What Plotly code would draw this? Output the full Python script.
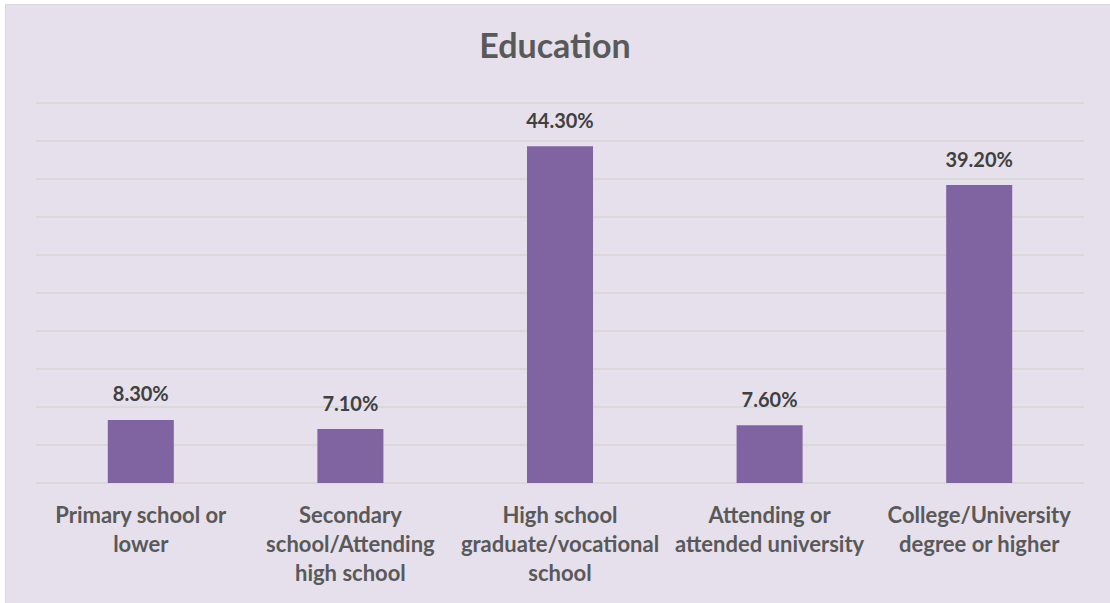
import plotly.graph_objects as go

# Education level distribution (percent of respondents)
categories = [
    "Primary school or<br>lower",
    "Secondary<br>school/Attending<br>high school",
    "High school<br>graduate/vocational<br>school",
    "Attending or<br>attended university",
    "College/University<br>degree or higher",
]
shares = [8.3, 7.1, 44.3, 7.6, 39.2]

BG = "#E6E0EC"
GRID = "#D9D9D9"
BAR = "#8064A2"
FONT = "Lato"

# plot area geometry (pixels)
PLOT_L, PLOT_R, PLOT_T, PLOT_B = 36, 1084, 101, 483
PLOT_W, PLOT_H = PLOT_R - PLOT_L, PLOT_B - PLOT_T

fig = go.Figure()
fig.add_trace(
    go.Bar(
        x=categories,
        y=shares,
        marker=dict(color=BAR, line=dict(width=0)),
        hoverinfo="skip",
    )
)
# value labels above each bar
fig.add_trace(
    go.Scatter(
        x=categories,
        y=shares,
        mode="markers+text",
        marker=dict(size=20, color="rgba(0,0,0,0)"),
        text=[f"<b>{v:.2f}%</b>" for v in shares],
        textposition="top center",
        textfont=dict(family=FONT, size=20, color="#404040"),
        cliponaxis=False,
        hoverinfo="skip",
    )
)

# chart frame with lavender fill and thin grey border
fig.add_shape(
    type="rect", xref="paper", yref="paper", layer="below",
    x0=(5.5 - PLOT_L) / PLOT_W, x1=(1115 - PLOT_L) / PLOT_W,
    y0=(PLOT_B - 610) / PLOT_H, y1=(PLOT_B - 4.5) / PLOT_H,
    fillcolor=BG, line=dict(color=GRID, width=1),
)

fig.update_layout(
    width=1110,
    height=603,
    margin=dict(l=PLOT_L, r=1110 - PLOT_R, t=PLOT_T, b=603 - PLOT_B),
    paper_bgcolor="white",
    plot_bgcolor="rgba(0,0,0,0)",
    bargap=0.685,
    showlegend=False,
    title=dict(
        text="<b>Education</b>",
        x=0.5, xanchor="center",
        y=(603 - 46) / 603, yanchor="middle",
        font=dict(family=FONT, size=34, color="#595959"),
    ),
    xaxis=dict(
        showgrid=False,
        showline=False,
        zeroline=False,
        ticks="outside",
        ticklen=13,
        tickcolor="rgba(0,0,0,0)",
        tickfont=dict(family=FONT, size=22, color="#595959", weight="bold"),
        tickangle=0,
    ),
    yaxis=dict(
        range=[0, 50.27],
        tick0=0,
        dtick=5,
        showticklabels=False,
        showgrid=True,
        gridcolor=GRID,
        gridwidth=2,
        zeroline=True,
        zerolinecolor=GRID,
        zerolinewidth=2,
        showline=False,
    ),
)

fig.write_html("out.html")
